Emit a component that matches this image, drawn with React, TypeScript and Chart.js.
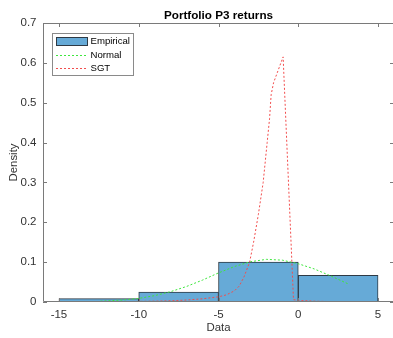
import React, { useEffect, useRef } from "react";
import { Chart, registerables } from "chart.js";

Chart.register(...registerables);

// Histogram (probability density normalisation)
const binEdges = [-15, -10, -5, 0, 5];
const binDensity = [0.0083, 0.025, 0.1, 0.0667];

// Fitted normal density
const normalX = [-12.4, -11, -10, -9, -8, -7, -6, -5, -4, -3, -2, -1, 0, 1, 2, 3.1];
const normalY = [0.002, 0.005, 0.009, 0.016, 0.026, 0.039, 0.055, 0.073, 0.089, 0.101, 0.107, 0.105, 0.096, 0.083, 0.066, 0.046];

// Fitted skewed generalized t density
const sgtX = [-12.4, -11, -10, -9, -8, -7, -6, -5, -4.5, -4, -3.7, -3.4, -3.05, -2.8, -2.5, -2.2, -1.95, -1.8, -1.7, -1.55, -0.95, -0.3, 0, 1, 2, 3.1];
const sgtY = [0.0005, 0.001, 0.0015, 0.002, 0.003, 0.005, 0.008, 0.013, 0.018, 0.028, 0.04, 0.063, 0.1, 0.15, 0.22, 0.3, 0.4, 0.46, 0.52, 0.55, 0.615, 0.006, 0.004, 0.002, 0.001, 0.0005];

const xTicks = [-15, -10, -5, 0, 5];
const yTicks = [0, 0.1, 0.2, 0.3, 0.4, 0.5, 0.6, 0.7];
const yTickLabels = ["0", "0.1", "0.2", "0.3", "0.4", "0.5", "0.6", "0.7"];

const titleText = "Portfolio P3 returns";
const xLabel = "Data";
const yLabel = "Density";
const legendLabels = ["Empirical", "Normal", "SGT"];

const FONT = "'Liberation Sans', Arial, Helvetica, sans-serif";
const BAR_FILL = "#66aad7";
const BAR_EDGE = "#2e3a45";
const GREEN = "#3ee63e";
const RED = "#f24d4d";
const AXIS = "#7a7a7a";
const TEXT = "#333333";

const framePlugin = {
  id: "matlabFrame",
  afterDatasetsDraw(chart: any) {
    const { ctx, chartArea: a, scales } = chart;
    const xs = scales.x;
    const ys = scales.y;
    ctx.save();

    // axes box
    ctx.strokeStyle = AXIS;
    ctx.lineWidth = 1;
    ctx.beginPath();
    ctx.rect(a.left + 0.5, a.top + 0.5, a.right - a.left - 1, a.bottom - a.top - 1);
    ctx.stroke();

    // inward tick marks on all four sides
    ctx.beginPath();
    for (const v of xTicks) {
      const px = Math.round(xs.getPixelForValue(v)) + 0.5;
      ctx.moveTo(px, a.bottom);
      ctx.lineTo(px, a.bottom - 4);
      ctx.moveTo(px, a.top);
      ctx.lineTo(px, a.top + 4);
    }
    for (const v of yTicks) {
      const py = Math.round(ys.getPixelForValue(v)) + 0.5;
      ctx.moveTo(a.left, py);
      ctx.lineTo(a.left + 4, py);
      ctx.moveTo(a.right, py);
      ctx.lineTo(a.right - 4, py);
    }
    ctx.stroke();

    const cx = (a.left + a.right) / 2;

    // title
    ctx.fillStyle = "#000";
    ctx.font = `bold 11.7px ${FONT}`;
    ctx.textAlign = "center";
    ctx.textBaseline = "middle";
    ctx.fillText(titleText, cx, 16);

    // axis labels
    ctx.fillStyle = TEXT;
    ctx.font = `11.4px ${FONT}`;
    ctx.fillText(xLabel, cx, 328);
    ctx.save();
    ctx.translate(14, (a.top + a.bottom) / 2);
    ctx.rotate(-Math.PI / 2);
    ctx.fillText(yLabel, 0, 0);
    ctx.restore();

    // legend
    const lx = 52.5, ly = 33.5, lw = 81, lh = 42;
    ctx.fillStyle = "#fff";
    ctx.fillRect(lx, ly, lw, lh);
    ctx.strokeStyle = "#8a8a8a";
    ctx.strokeRect(lx, ly, lw, lh);

    const rows = [41.5, 55, 68.3];
    ctx.fillStyle = BAR_FILL;
    ctx.fillRect(56.5, 37.5, 31, 8);
    ctx.strokeStyle = BAR_EDGE;
    ctx.strokeRect(56.5, 37.5, 31, 8);

    ctx.setLineDash([2, 2]);
    ctx.strokeStyle = GREEN;
    ctx.beginPath();
    ctx.moveTo(56, Math.round(rows[1]) + 0.5);
    ctx.lineTo(88, Math.round(rows[1]) + 0.5);
    ctx.stroke();
    ctx.strokeStyle = RED;
    ctx.beginPath();
    ctx.moveTo(56, Math.round(rows[2]) + 0.5);
    ctx.lineTo(88, Math.round(rows[2]) + 0.5);
    ctx.stroke();
    ctx.setLineDash([]);

    ctx.fillStyle = "#000";
    ctx.font = `9.6px ${FONT}`;
    ctx.textAlign = "left";
    legendLabels.forEach((t, i) => ctx.fillText(t, 90.5, rows[i]));

    ctx.restore();
  },
};

export default function App() {
  const canvasRef = useRef<HTMLCanvasElement | null>(null);

  useEffect(() => {
    const canvas = canvasRef.current;
    if (!canvas) return;

    const bars = binDensity.map((d, i) => ({ x: (binEdges[i] + binEdges[i + 1]) / 2, y: d }));
    const normalPts = normalX.map((x, i) => ({ x, y: normalY[i] }));
    const sgtPts = sgtX.map((x, i) => ({ x, y: sgtY[i] }));

    const chart = new Chart(canvas, {
      type: "bar",
      data: {
        datasets: [
          {
            type: "line",
            label: legendLabels[2],
            data: sgtPts,
            borderColor: RED,
            borderWidth: 1,
            borderDash: [2, 2],
            pointRadius: 0,
            tension: 0,
            order: 1,
          } as any,
          {
            type: "line",
            label: legendLabels[1],
            data: normalPts,
            borderColor: GREEN,
            borderWidth: 1,
            borderDash: [2, 2],
            pointRadius: 0,
            tension: 0,
            order: 2,
          } as any,
          {
            type: "bar",
            label: legendLabels[0],
            data: bars,
            backgroundColor: BAR_FILL,
            borderColor: BAR_EDGE,
            borderWidth: 1,
            barPercentage: 1,
            categoryPercentage: 1,
            order: 3,
          } as any,
        ],
      },
      options: {
        responsive: false,
        animation: false,
        devicePixelRatio: 1,
        layout: { padding: { left: 0, right: 6, top: 23, bottom: 0 } },
        plugins: {
          legend: { display: false },
          title: { display: false },
          tooltip: { enabled: false },
        },
        scales: {
          x: {
            type: "linear",
            min: -16,
            max: 6,
            offset: false,
            grid: { display: false, drawTicks: false, offset: false },
            border: { display: false },
            afterBuildTicks: (s: any) => {
              s.ticks = xTicks.map((v) => ({ value: v }));
            },
            afterFit: (s: any) => {
              s.height = 36;
            },
            ticks: {
              padding: 6,
              color: TEXT,
              font: { family: FONT, size: 11.5 },
              maxRotation: 0,
              callback: (v: any) => String(v),
            },
          },
          y: {
            type: "linear",
            min: 0,
            max: 0.7,
            grid: { display: false, drawTicks: false },
            border: { display: false },
            afterBuildTicks: (s: any) => {
              s.ticks = yTicks.map((v) => ({ value: v }));
            },
            afterFit: (s: any) => {
              s.width = 43;
            },
            ticks: {
              padding: 6.5,
              color: TEXT,
              font: { family: FONT, size: 11.5 },
              callback: (_v: any, i: number) => yTickLabels[i],
            },
          },
        },
      },
      plugins: [framePlugin],
    } as any);

    return () => chart.destroy();
  }, []);

  return (
    <div style={{ position: "fixed", left: 0, top: 0, width: 393, height: 338, overflow: "hidden", background: "#fff" }}>
      <canvas ref={canvasRef} width={400} height={338} style={{ width: 400, height: 338, display: "block" }} />
    </div>
  );
}
